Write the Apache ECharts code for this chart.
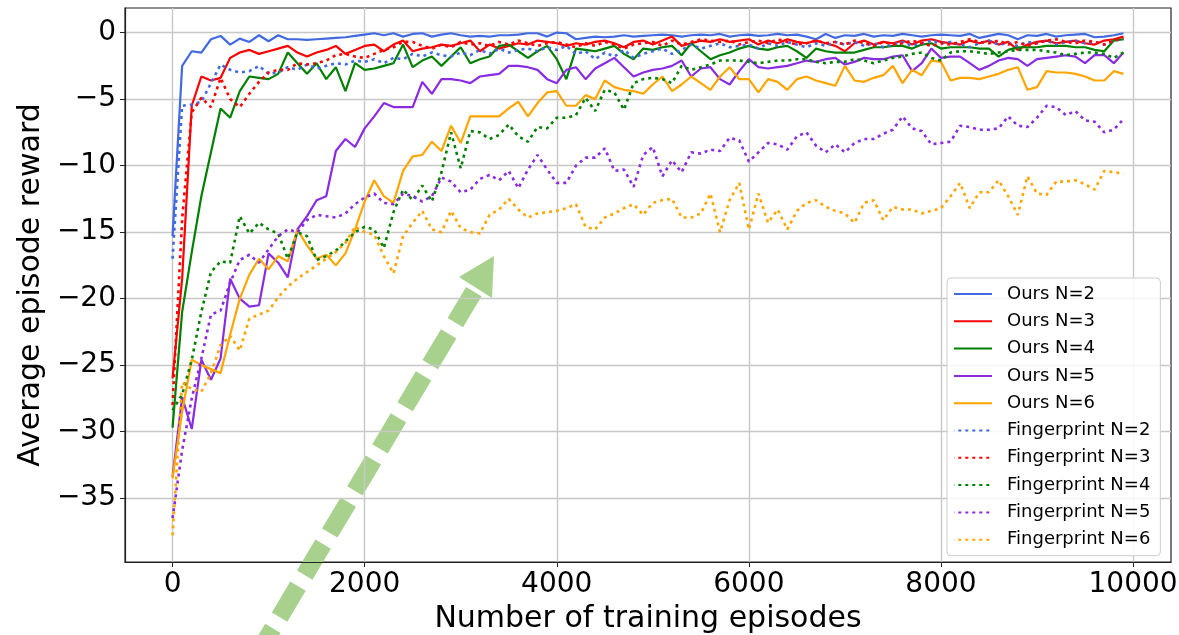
<!DOCTYPE html>
<html>
<head>
<meta charset="utf-8">
<script src="https://cdn.jsdelivr.net/npm/echarts@6/dist/echarts.min.js"></script>
<style>
  html, body { margin: 0; padding: 0; background: #fff; }
  #chart { width: 1179px; height: 635px; }
</style>
</head>
<body>
<div id="chart"></div>
<script>
// episodes are logged every 100 steps, 0 .. 9900
const STEP = 100;
const xTicks = [0, 2000, 4000, 6000, 8000, 10000];
const yTicks = [-35, -30, -25, -20, -15, -10, -5, 0];

const oursN2 = [-15.3,-2.5,-1.4,-1.5,-0.5,-0.25,-0.9,-0.45,-0.7,-0.2,-0.65,-0.2,-0.5,-0.5,-0.55,-0.5,-0.45,-0.4,-0.35,-0.25,
  -0.15,-0.05,-0.2,-0.05,-0.3,-0.1,-0.05,-0.3,-0.15,-0.05,-0.2,-0.3,-0.25,-0.3,-0.2,-0.2,-0.15,-0.05,-0.05,-0.3,
  0.0,-0.05,-0.5,-0.4,-0.3,-0.35,-0.3,-0.2,-0.3,-0.25,-0.2,-0.15,-0.2,-0.3,-0.2,-0.15,-0.2,-0.1,-0.3,-0.2,
  -0.15,-0.25,-0.2,-0.1,-0.2,-0.15,-0.3,-0.5,-0.1,-0.4,-0.2,-0.25,-0.1,-0.3,-0.2,-0.25,-0.1,-0.2,-0.3,-0.2,
  -0.15,-0.2,-0.25,-0.1,-0.4,-0.25,-0.1,-0.2,-0.5,-0.2,-0.25,-0.1,-0.3,-0.2,-0.15,-0.1,-0.35,-0.3,-0.2,-0.05];
const oursN3 = [-26,-18.5,-5.5,-3.3,-3.6,-3.4,-1.9,-1.5,-1.3,-1.6,-1.4,-1.2,-1.0,-1.5,-1.8,-1.5,-1.3,-1.0,-1.6,-1.3,
  -1.0,-0.9,-1.4,-0.9,-0.6,-1.4,-1.2,-1.1,-0.9,-1.0,-0.8,-0.6,-1.4,-0.9,-1.2,-1.0,-0.8,-0.9,-0.6,-0.7,
  -0.8,-1.0,-0.8,-0.9,-0.7,-0.6,-0.8,-1.1,-0.7,-0.6,-0.9,-0.6,-0.3,-1.0,-0.8,-0.6,-0.7,-0.5,-0.7,-0.6,
  -0.5,-0.9,-0.6,-0.8,-0.5,-0.7,-0.8,-0.6,-0.8,-1.0,-1.4,-0.8,-0.6,-0.9,-0.7,-0.8,-0.6,-0.9,-0.6,-0.5,
  -0.7,-0.8,-0.9,-0.6,-0.8,-0.6,-0.9,-0.7,-1.3,-0.9,-0.7,-0.6,-0.8,-0.7,-0.6,-0.8,-0.9,-0.6,-0.5,-0.3];
const oursN4 = [-29.7,-21,-16.5,-12.3,-9.0,-5.7,-6.4,-4.4,-3.3,-3.4,-3.5,-3.1,-1.5,-2.3,-3.1,-2.3,-3.5,-2.6,-4.4,-2.3,
  -2.8,-2.7,-2.5,-2.3,-0.9,-2.6,-2.1,-1.8,-2.5,-1.8,-1.1,-2.3,-2.0,-1.8,-1.0,-0.9,-1.4,-1.9,-1.4,-1.0,
  -2.0,-3.5,-1.2,-1.3,-1.4,-1.2,-1.0,-1.6,-2.0,-1.2,-1.3,-1.1,-1.0,-1.7,-0.8,-1.4,-2.0,-1.7,-1.5,-1.2,
  -1.0,-1.2,-1.3,-1.1,-1.0,-1.4,-1.9,-1.2,-1.4,-1.5,-1.5,-1.5,-1.3,-1.1,-1.1,-1.0,-1.0,-1.2,-0.9,-0.8,
  -1.2,-1.1,-1.1,-1.1,-1.2,-1.2,-1.8,-1.3,-1.1,-1.1,-1.1,-1.0,-1.0,-1.0,-1.1,-1.1,-1.3,-1.4,-0.6,-0.5];
const oursN5 = [-33.4,-27.4,-29.8,-24.6,-26.1,-24.5,-18.5,-20.0,-20.6,-20.5,-16.6,-17.3,-18.4,-14.8,-13.8,-12.6,-12.3,-8.9,-8.0,-8.6,
  -7.2,-6.3,-5.3,-5.6,-5.6,-5.6,-3.7,-4.6,-3.5,-3.5,-3.6,-3.8,-3.3,-3.2,-3.1,-2.5,-2.5,-2.6,-2.8,-3.5,
  -3.8,-2.8,-2.6,-3.5,-2.7,-2.3,-1.9,-2.6,-3.3,-3.0,-2.8,-2.7,-2.5,-2.1,-3.3,-2.7,-2.6,-3.5,-3.9,-2.9,
  -2.0,-2.6,-2.7,-2.6,-2.5,-2.3,-2.1,-2.2,-2.0,-1.9,-2.4,-2.2,-1.9,-2.0,-2.0,-1.8,-1.7,-2.9,-2.3,-1.2,
  -1.9,-1.8,-1.8,-2.3,-2.8,-2.5,-2.1,-1.9,-2.0,-2.5,-2.0,-1.9,-1.8,-1.7,-1.8,-2.3,-1.7,-1.7,-2.3,-1.5];
const oursN6 = [-33.5,-28.5,-24.6,-25.0,-25.3,-25.6,-22.7,-20.0,-18.2,-17.0,-17.8,-16.8,-17.2,-14.8,-16.0,-17.0,-16.7,-17.5,-16.6,-14.8,
  -12.7,-11.1,-12.3,-12.8,-10.4,-9.3,-9.2,-8.2,-8.9,-7.0,-8.3,-6.3,-6.3,-6.3,-6.3,-5.7,-5.2,-6.3,-5.3,-4.5,
  -4.4,-5.5,-5.5,-4.7,-5.0,-3.6,-4.1,-4.3,-4.4,-4.6,-3.9,-3.3,-4.4,-3.9,-3.3,-3.8,-4.3,-3.3,-2.6,-3.5,
  -3.5,-4.5,-3.5,-3.7,-4.3,-3.5,-3.3,-3.6,-3.8,-4.0,-2.5,-3.6,-3.7,-3.4,-3.2,-2.5,-3.8,-2.8,-3.2,-2.1,
  -2.2,-3.6,-3.4,-3.4,-3.5,-3.3,-3.1,-2.8,-2.6,-4.3,-4.1,-2.9,-3.0,-3.0,-3.1,-3.3,-3.6,-3.6,-2.9,-3.1];

const fpN2 = [-17,-5.5,-5.4,-5.2,-3.8,-2.4,-2.8,-3.0,-2.9,-2.5,-3.1,-3.0,-2.6,-2.8,-2.4,-2.7,-2.5,-2.3,-2.4,-2.1,
  -2.2,-2.0,-2.3,-1.9,-2.0,-1.6,-1.8,-1.5,-1.7,-1.8,-1.5,-1.7,-1.3,-1.6,-1.2,-1.5,-1.3,-1.2,-1.4,-1.1,
  -1.3,-1.0,-1.6,-1.4,-2.0,-1.5,-1.8,-1.3,-1.9,-1.6,-1.4,-1.2,-1.6,-1.3,-0.9,-1.2,-1.0,-0.8,-1.1,-1.0,
  -0.9,-1.2,-0.8,-1.0,-0.7,-0.9,-1.1,-0.8,-1.0,-0.7,-0.9,-0.7,-1.0,-0.8,-1.1,-0.9,-0.7,-1.0,-0.8,-0.6,
  -0.8,-0.7,-0.9,-1.1,-0.8,-0.6,-0.9,-0.8,-1.0,-0.7,-0.8,-0.6,-0.9,-0.7,-0.6,-0.8,-0.7,-0.9,-0.6,-0.5];
const fpN3 = [-28,-14,-6.0,-4.9,-5.6,-3.4,-5.0,-5.6,-4.6,-3.7,-3.0,-2.8,-2.8,-2.3,-2.4,-2.3,-2.1,-1.7,-1.6,-1.8,
  -1.9,-1.6,-1.3,-1.1,-0.7,-0.7,-1.0,-1.2,-0.9,-1.1,-0.7,-0.9,-0.8,-1.0,-0.7,-0.9,-0.6,-0.8,-1.0,-0.8,
  -0.7,-0.9,-1.1,-0.8,-1.0,-0.7,-0.9,-1.2,-0.9,-0.8,-0.7,-1.0,-0.6,-0.9,-0.7,-0.5,-0.6,-0.7,-0.6,-0.9,
  -0.7,-0.6,-0.8,-0.5,-0.7,-0.9,-0.8,-0.6,-0.8,-0.7,-0.9,-0.6,-0.8,-1.0,-0.7,-0.9,-0.8,-0.6,-0.8,-1.0,
  -0.8,-0.9,-0.7,-0.5,-0.7,-0.8,-0.6,-0.9,-0.7,-1.0,-0.8,-0.6,-0.5,-0.7,-0.8,-0.6,-0.7,-0.9,-0.6,-0.4];
const fpN4 = [-28.4,-27.2,-24.6,-21.0,-18.0,-17.2,-17.3,-13.8,-15.1,-14.3,-14.8,-15.1,-17.0,-15.0,-15.3,-17.1,-16.8,-16.4,-15.7,-15.0,
  -14.6,-14.8,-16.2,-13.5,-11.8,-12.6,-11.5,-12.7,-10.5,-7.5,-10.2,-7.4,-7.5,-8.0,-7.7,-6.9,-7.8,-8.2,-7.1,-7.2,
  -6.4,-6.4,-6.2,-4.9,-5.9,-4.3,-4.5,-5.8,-3.8,-3.5,-3.4,-3.5,-3.8,-2.5,-2.8,-2.6,-2.4,-2.1,-2.1,-2.1,
  -2.2,-2.3,-2.2,-2.1,-2.1,-2.0,-2.0,-2.2,-2.3,-2.2,-2.2,-2.0,-2.1,-2.3,-2.1,-1.9,-1.8,-1.6,-1.5,-1.9,
  -2.1,-1.5,-1.4,-1.4,-1.5,-1.6,-1.5,-1.4,-1.3,-1.3,-1.3,-1.4,-1.5,-1.7,-1.6,-1.5,-1.5,-1.6,-1.9,-1.5];
const fpN5 = [-36.5,-31.4,-27.5,-24.5,-21.2,-20.9,-18.8,-17.1,-16.7,-17.3,-16.3,-15.3,-14.8,-15.0,-14.1,-13.7,-13.8,-13.9,-13.6,-12.9,
  -12.4,-12.1,-12.8,-12.9,-12.1,-12.3,-12.7,-12.3,-10.9,-11.2,-12.0,-11.8,-11.0,-10.7,-11.1,-10.4,-11.7,-10.3,-9.2,-10.3,
  -11.3,-11.3,-10.0,-9.4,-9.4,-8.7,-10.4,-10.3,-11.6,-9.2,-8.6,-10.8,-9.6,-10.5,-9.0,-9.1,-8.8,-8.9,-7.9,-8.1,
  -9.7,-9.0,-8.3,-8.4,-8.8,-7.8,-7.5,-8.5,-9.0,-8.4,-9.0,-8.3,-8.0,-8.0,-7.6,-7.3,-6.3,-7.2,-7.4,-8.4,
  -8.3,-8.2,-7.0,-7.1,-7.3,-7.3,-7.2,-6.3,-7.0,-7.1,-6.4,-5.5,-5.6,-6.2,-5.9,-6.6,-6.7,-7.5,-7.3,-6.5];
const fpN6 = [-37.8,-26.3,-26.8,-27.0,-25.6,-23.5,-22.8,-23.9,-21.5,-21.2,-20.9,-19.9,-19.1,-18.5,-18.0,-17.5,-17.0,-16.5,-15.8,-14.6,
  -15.0,-15.2,-16.8,-18.1,-15.3,-14.3,-13.4,-14.8,-15.0,-13.4,-14.7,-15.0,-15.1,-13.7,-13.3,-12.5,-13.3,-13.9,-13.6,-13.5,
  -13.4,-13.2,-12.9,-14.6,-14.8,-13.9,-13.6,-13.2,-12.9,-13.7,-12.8,-12.6,-12.5,-13.9,-13.9,-13.6,-12.1,-15.0,-12.6,-11.3,
  -14.8,-12.1,-14.3,-13.3,-14.8,-13.4,-12.8,-12.6,-13.1,-13.4,-13.6,-14.3,-12.8,-12.6,-14.1,-13.1,-13.3,-13.3,-13.6,-13.4,
  -13.2,-12.3,-11.3,-13.2,-12.0,-12.0,-11.1,-12.3,-13.7,-10.8,-12.1,-12.2,-11.2,-11.2,-11.1,-11.4,-11.8,-10.4,-10.5,-10.6];

const runs = [
  { name: 'Ours N=2', data: oursN2, color: '#4169e1', dotted: false },
  { name: 'Ours N=3', data: oursN3, color: '#ff0000', dotted: false },
  { name: 'Ours N=4', data: oursN4, color: '#008000', dotted: false },
  { name: 'Ours N=5', data: oursN5, color: '#8a2be2', dotted: false },
  { name: 'Ours N=6', data: oursN6, color: '#ffa500', dotted: false },
  { name: 'Fingerprint N=2', data: fpN2, color: '#4169e1', dotted: true },
  { name: 'Fingerprint N=3', data: fpN3, color: '#ff0000', dotted: true },
  { name: 'Fingerprint N=4', data: fpN4, color: '#008000', dotted: true },
  { name: 'Fingerprint N=5', data: fpN5, color: '#8a2be2', dotted: true },
  { name: 'Fingerprint N=6', data: fpN6, color: '#ffa500', dotted: true },
];

const FONT = 'DejaVu Sans';
const fmtMinus = v => (v < 0 ? '\u2212' + Math.abs(v) : String(v));

const series = runs.map(r => ({
  name: r.name,
  type: 'line',
  symbol: 'none',
  silent: true,
  color: r.color,
  data: r.data.map((y, i) => [i * STEP, y]),
  lineStyle: r.dotted
    ? { color: r.color, width: 2.6, type: [3, 4], cap: 'butt' }
    : { color: r.color, width: 2.2 },
}));

const chart = echarts.init(document.getElementById('chart'));
chart.setOption({
  animation: false,
  backgroundColor: '#fff',
  grid: {
    left: 125, right: 8, top: 8, bottom: 73,
    containLabel: false, outerBoundsMode: 'none',
    show: true, borderColor: '#222', borderWidth: 1.2,
  },
  xAxis: {
    type: 'value', min: -495, max: 10395,
    name: 'Number of training episodes',
    nameLocation: 'middle', nameGap: 36,
    nameTextStyle: { fontFamily: FONT, fontSize: 30, color: '#000' },
    axisLine: { show: true, onZero: false, lineStyle: { color: '#222', width: 1.2 } },
    axisTick: { show: true, length: 5, customValues: xTicks, lineStyle: { color: '#222' } },
    axisLabel: { customValues: xTicks, margin: 9, fontFamily: FONT, fontSize: 28, color: '#000', formatter: v => String(v) },
    splitLine: { show: true, lineStyle: { color: '#c8c8c8', width: 1.4 } },
  },
  yAxis: {
    type: 'value', min: -39.8, max: 1.85,
    name: 'Average episode reward',
    nameLocation: 'middle', nameGap: 78, nameRotate: 90,
    nameTextStyle: { fontFamily: FONT, fontSize: 30, color: '#000' },
    axisLine: { show: true, onZero: false, lineStyle: { color: '#222', width: 1.2 } },
    axisTick: { show: true, length: 5, customValues: yTicks, lineStyle: { color: '#222' } },
    axisLabel: { customValues: yTicks, margin: 9, fontFamily: FONT, fontSize: 28, color: '#000', formatter: fmtMinus },
    splitLine: { show: true, lineStyle: { color: '#c8c8c8', width: 1.4 } },
  },
  legend: {
    orient: 'vertical',
    left: 947, top: 278,
    padding: [7, 10, 7, 6],
    itemWidth: 38, itemHeight: 14, itemGap: 9.3,
    itemStyle: { opacity: 0 },
    backgroundColor: 'rgba(255,255,255,0.85)',
    borderColor: '#cccccc', borderWidth: 1, borderRadius: 4,
    textStyle: { fontFamily: FONT, fontSize: 18, color: '#000', padding: [0, 0, 0, 10] },
    data: runs.map(r => r.name),
  },
  series: series,
  // annotation arrow (pixel coordinates, not data)
  graphic: [{
    type: 'group', z: 100, silent: true,
    children: [
      {
        type: 'line',
        shape: { x1: 476, y1: 288, x2: 254, y2: 660 },
        style: { stroke: '#a9d18e', lineWidth: 18, lineDash: [36, 13], lineDashOffset: 44.7, lineCap: 'butt' },
      },
      {
        type: 'polygon',
        shape: { points: [[459, 277], [494, 256], [492, 298]] },
        style: { fill: '#a9d18e' },
      },
    ],
  }],
});
</script>
</body>
</html>
